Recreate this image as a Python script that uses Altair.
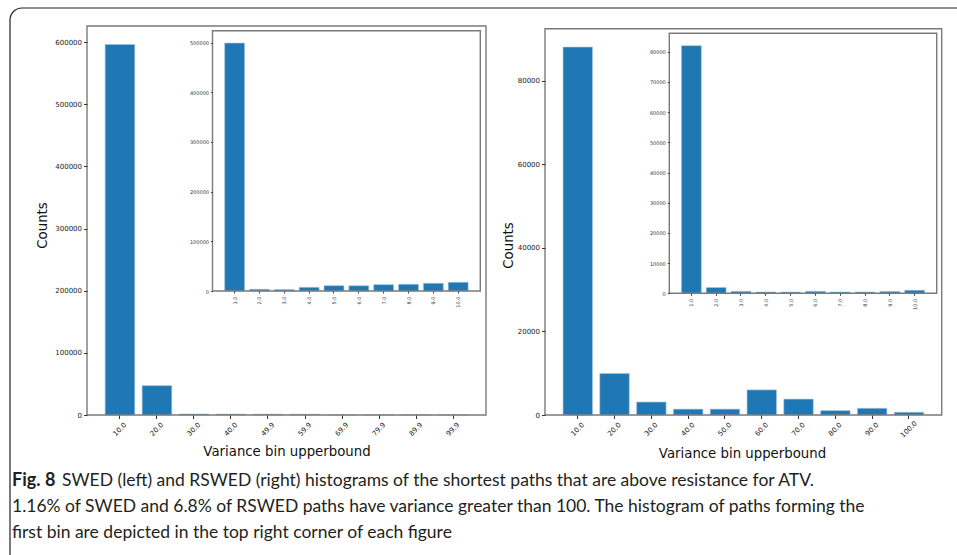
import altair as alt
import pandas as pd

# ---------------- data ----------------
swed_bins = ["10.0", "20.0", "30.0", "40.0", "49.9", "59.9", "69.9", "79.9", "89.9", "99.9"]
swed_counts = [596000, 47200, 1600, 1400, 1300, 1200, 150, 100, 80, 60]
swed_first_bins = ["1.0", "2.0", "3.0", "4.0", "5.0", "6.0", "7.0", "8.0", "9.0", "10.0"]
swed_first_counts = [499000, 3400, 3000, 7400, 10700, 10500, 12700, 13500, 15500, 17500]

rswed_bins = ["10.0", "20.0", "30.0", "40.0", "50.0", "60.0", "70.0", "80.0", "90.0", "100.0"]
rswed_counts = [88000, 9900, 3100, 1400, 1400, 6000, 3800, 1050, 1600, 650]
rswed_first_bins = ["1.0", "2.0", "3.0", "4.0", "5.0", "6.0", "7.0", "8.0", "9.0", "10.0"]
rswed_first_counts = [82000, 1900, 650, 430, 400, 650, 420, 420, 600, 1000]

swed_ticks = [0, 100000, 200000, 300000, 400000, 500000, 600000]
swed_first_ticks = [0, 100000, 200000, 300000, 400000, 500000]
rswed_ticks = [0, 20000, 40000, 60000, 80000]
rswed_first_ticks = [0, 10000, 20000, 30000, 40000, 50000, 60000, 70000, 80000]

y_title = "Counts"
x_title = "Variance bin upperbound"
caption_bold = "Fig. 8"
caption_lines = [
    "SWED (left) and RSWED (right) histograms of the shortest paths that are above resistance for ATV.",
    "1.16% of SWED and 6.8% of RSWED paths have variance greater than 100. The histogram of paths forming the",
    "first bin are depicted in the top right corner of each figure",
]

# ---------------- layout ----------------
W, H = 957, 555
BAR = "#1f77b4"
FRAME = "#7a7a7a"
FONT = "DejaVu Sans"
CAP_FONT = "Lato"

one = pd.DataFrame({"k": [0]})


def frame_layers(x0, x1, y0, y1):
    bg = alt.Chart(one).mark_rect(fill="white").encode(
        x=alt.value(x0), x2=alt.value(x1), y=alt.value(y0), y2=alt.value(y1))
    border = alt.Chart(one).mark_rect(filled=False, stroke=FRAME, strokeWidth=1.4).encode(
        x=alt.value(x0), x2=alt.value(x1), y=alt.value(y0), y2=alt.value(y1))
    return bg, border


def bar_panel(bins, counts, ticks, box, main, ytitle_pos=None, xtitle_pos=None):
    x0, x1, y0, y1 = box
    df = pd.DataFrame({"bin": bins, "count": counts})
    top = max(counts) * 1.05
    if main:
        xaxis = alt.Axis(
            orient="bottom", zindex=1,
            offset=y1 - H, domain=False, grid=False, ticks=True, tickSize=3.5,
            tickColor="#333", labelFont=FONT, labelFontSize=7, labelColor="#222",
            labelAngle=315, labelAlign="center", labelBaseline="middle",
            labelPadding=10.5, labelOverlap=False,
            title=x_title, titleFont=FONT, titleFontSize=13.3, titleFontWeight="normal",
            titleColor="#111", titleX=xtitle_pos[0], titleY=xtitle_pos[1],
            titleAlign="center", titleBaseline="middle")
        yaxis = alt.Axis(
            orient="left", zindex=1,
            offset=-x0, domain=False, grid=False, values=ticks, format="d",
            tickSize=3.5, tickColor="#333", labelFont=FONT, labelFontSize=7,
            labelColor="#222", labelPadding=2, labelOverlap=False,
            title=y_title, titleFont=FONT, titleFontSize=13.3, titleFontWeight="normal",
            titleColor="#111", titleX=ytitle_pos[0], titleY=ytitle_pos[1],
            titleAngle=270, titleAlign="center", titleBaseline="middle")
    else:
        xaxis = alt.Axis(
            orient="bottom", zindex=1,
            offset=y1 - H, domain=False, grid=False, tickSize=2, tickColor="#444",
            labelFont=FONT, labelFontSize=5, labelColor="#333",
            labelAngle=270, labelAlign="right", labelBaseline="middle",
            labelPadding=3, labelOverlap=False, title=None)
        yaxis = alt.Axis(
            orient="left", zindex=1,
            offset=-x0, domain=False, grid=False, values=ticks, format="d",
            tickSize=2, tickColor="#444", labelFont=FONT, labelFontSize=5,
            labelColor="#333", labelPadding=2, labelOverlap=False, title=None)
    bars = alt.Chart(df).mark_bar(color=BAR, stroke="#9fc3e2", strokeWidth=0.6).encode(
        x=alt.X("bin:N", sort=None,
                scale=alt.Scale(range=[x0, x1], paddingInner=0.2, paddingOuter=0.49),
                axis=xaxis),
        y=alt.Y("count:Q",
                scale=alt.Scale(domain=[0, top], range=[y1, y0], nice=False, zero=True),
                axis=yaxis),
    )
    bg, border = frame_layers(x0, x1, y0, y1)
    return [bg, bars, border]


layers = []

outer = alt.Chart(one).mark_rect(filled=False, stroke="#222", strokeWidth=1.2, cornerRadius=12).encode(
    x=alt.value(10), x2=alt.value(1000), y=alt.value(8), y2=alt.value(600))
layers.append(outer)

layers += bar_panel(swed_bins, swed_counts, swed_ticks, (87, 486, 26, 415), True,
                    ytitle_pos=(-45, 225), xtitle_pos=(286.5, 36.7))
layers += bar_panel(swed_first_bins, swed_first_counts, swed_first_ticks,
                    (212.5, 480.3, 30.7, 291), False)
layers += bar_panel(rswed_bins, rswed_counts, rswed_ticks, (545, 941.7, 28.7, 415), True,
                    ytitle_pos=(-36.7, 245), xtitle_pos=(742, 38))
layers += bar_panel(rswed_first_bins, rswed_first_counts, rswed_first_ticks,
                    (669.3, 936.7, 33.3, 293.3), False)

cap_size = 17.5
cap_bold = alt.Chart(pd.DataFrame({"t": [caption_bold]})).mark_text(
    font=CAP_FONT, fontSize=cap_size + 0.5, fontWeight="bold", align="left", baseline="middle",
    color="#231f20").encode(text="t:N", x=alt.value(12), y=alt.value(481))
layers.append(cap_bold)
for i, line in enumerate(caption_lines):
    xpos = 62 if i == 0 else 12
    layers.append(
        alt.Chart(pd.DataFrame({"t": [line]})).mark_text(
            font=CAP_FONT, fontSize=cap_size, align="left", baseline="middle",
            color="#231f20").encode(text="t:N", x=alt.value(xpos), y=alt.value(481 + 26 * i))
    )

chart = alt.layer(*layers).resolve_scale(
    x="independent", y="independent"
).resolve_axis(
    x="independent", y="independent"
).properties(
    width=W, height=H, padding=0, autosize=alt.AutoSizeParams(type="none"),
    background="white"
).configure_view(stroke="transparent")

chart.save("out.html", embed_options={"renderer": "svg", "actions": False})
